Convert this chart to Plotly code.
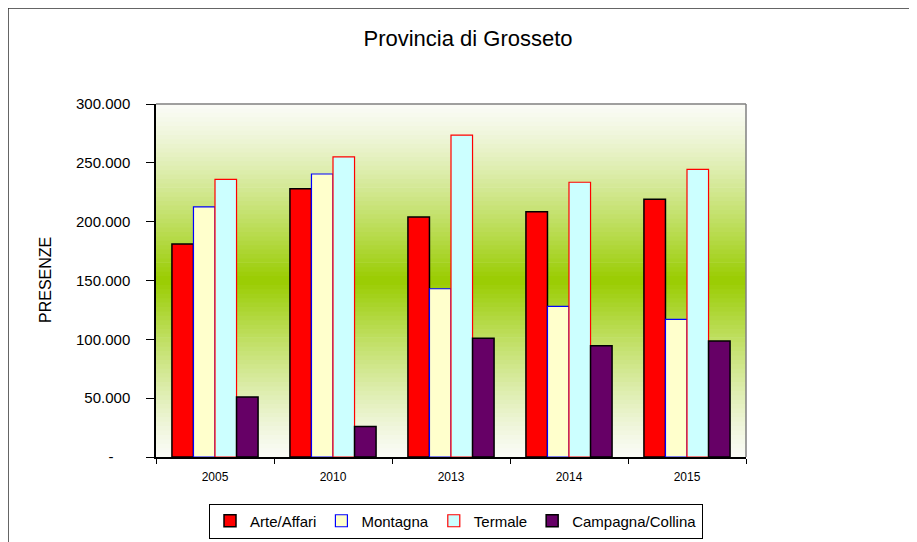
import plotly.graph_objects as go

years = ["2005", "2010", "2013", "2014", "2015"]
arte_affari = [181000, 228000, 204000, 208500, 219000]
montagna = [212500, 240500, 143000, 128000, 117000]
termale = [236000, 255000, 273500, 233500, 244500]
campagna_collina = [51000, 26000, 101000, 94500, 98500]

y_tickvals = [0, 50000, 100000, 150000, 200000, 250000, 300000]
y_ticktext = ["-" + "\u00a0" * 4, "50.000", "100.000", "150.000", "200.000", "250.000", "300.000"]

# the page body adds an 8px offset; work in reference pixels minus 8
OFF = 8
W, H = 917 - OFF, 542 - OFF
L, R, T, B = 156 - OFF, 746 - OFF, 104 - OFF, 457 - OFF
pw, ph = R - L, B - T


def px(x):
    return (x - OFF - L) / pw


def py(y):
    return (B - (y - OFF)) / ph


fig = go.Figure()
series = [
    ("Arte/Affari", arte_affari, "#FF0000", "#000000", 1.5),
    ("Montagna", montagna, "#FFFFCC", "#0000FF", 1.2),
    ("Termale", termale, "#CCFFFF", "#FF0000", 1.2),
    ("Campagna/Collina", campagna_collina, "#660066", "#000000", 1.5),
]
for name, vals, fill, line, lw in series:
    fig.add_trace(go.Bar(x=years, y=vals, name=name,
                         marker=dict(color=fill, line=dict(color=line, width=lw))))

# gradient background (white -> green -> white)
shapes = []
n = 80
g = (153, 204, 0)
top = (250, 251, 246)
for i in range(n):
    y0 = i / n
    y1 = (i + 1) / n
    c = (y0 + y1) / 2
    t = 1 - abs(c - 0.5) / 0.5
    t = t ** 1.25
    col = tuple(int(round(top[k] * (1 - t) + g[k] * t)) for k in range(3))
    shapes.append(dict(type="rect", xref="paper", yref="paper", x0=0, x1=1, y0=y0, y1=y1 + 0.002,
                       fillcolor="rgb(%d,%d,%d)" % col, line=dict(width=0), layer="below"))
shapes.append(dict(type="line", xref="paper", yref="paper", x0=0, x1=1, y0=1, y1=1,
                   line=dict(color="#808080", width=1.5)))
shapes.append(dict(type="line", xref="paper", yref="paper", x0=1, x1=1, y0=0, y1=1,
                   line=dict(color="#808080", width=1.5)))
shapes.append(dict(type="rect", xref="paper", yref="paper",
                   x0=px(8), x1=px(960), y0=py(580), y1=py(8),
                   line=dict(color="#333333", width=1.5), fillcolor="rgba(0,0,0,0)"))

fig.update_layout(
    width=W, height=H,
    margin=dict(l=L, r=W - R, t=T, b=H - B, autoexpand=False),
    paper_bgcolor="white", plot_bgcolor="white",
    font=dict(family="Liberation Sans, Arial, sans-serif", color="black"),
    title=dict(text="Provincia di Grosseto", x=(468 - OFF) / W, xanchor="center",
               y=1 - (38 - OFF) / H, yanchor="middle", font=dict(size=22)),
    barmode="group", bargap=0.27, bargroupgap=0,
    showlegend=True,
    legend=dict(orientation="h", x=px(456), xanchor="center",
                y=py(521), yanchor="middle",
                bordercolor="black", borderwidth=1, bgcolor="white",
                font=dict(size=15), itemwidth=30, tracegroupgap=0),
    shapes=shapes,
    annotations=[dict(text="PRESENZE", xref="paper", yref="paper",
                      x=px(45), y=py(280), textangle=-90,
                      showarrow=False, font=dict(size=16), xanchor="center", yanchor="middle")],
)
fig.update_xaxes(type="category", showline=True, linecolor="black", linewidth=1.5,
                 ticks="outside", tickson="boundaries", ticklen=5, tickcolor="black",
                 tickfont=dict(size=12), ticklabelstandoff=8, showgrid=False, automargin=False)
fig.update_yaxes(range=[0, 300000], tickvals=y_tickvals, ticktext=y_ticktext,
                 showline=True, linecolor="black", linewidth=1.5,
                 ticks="outside", ticklen=8, tickcolor="black",
                 tickfont=dict(size=15), ticklabelstandoff=13, showgrid=False, zeroline=False,
                 automargin=False)

fig.write_html("out.html")
